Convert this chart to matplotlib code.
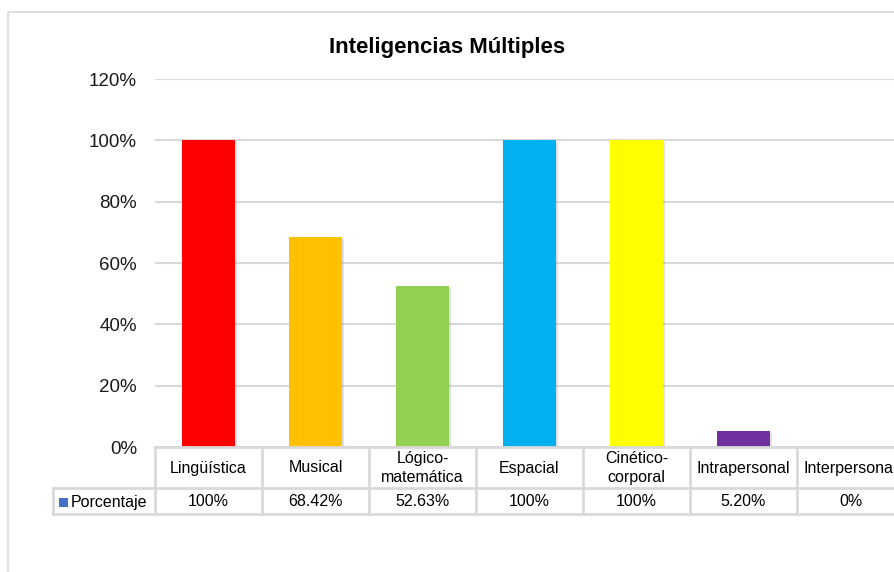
import matplotlib
matplotlib.use("Agg")
import matplotlib.pyplot as plt
import matplotlib.patheffects as pe
from matplotlib.transforms import blended_transform_factory, Affine2D
from matplotlib.patches import Rectangle

plt.rcParams['font.family'] = ['Liberation Sans', 'DejaVu Sans']

title = "Inteligencias Múltiples"
categories = ["Lingüística", "Musical", "Lógico-\nmatemática", "Espacial",
              "Cinético-\ncorporal", "Intrapersonal", "Interpersonal"]
values = [100, 68.42, 52.63, 100, 100, 5.20, 0]
value_labels = ["100%", "68.42%", "52.63%", "100%", "100%", "5.20%", "0%"]
colors = ["#FF0000", "#FFC000", "#92D050", "#00B0F0", "#FFFF00", "#7030A0", "#4472C4"]
series_name = "Porcentaje"
yticks = [0, 20, 40, 60, 80, 100, 120]
ytick_labels = ["0%", "20%", "40%", "60%", "80%", "100%", "120%"]

W, H = 894, 572
fig = plt.figure(figsize=(W / 100, H / 100), dpi=100)
grid_c = "#D9D9D9"

# outer chart border
fig.patches.append(Rectangle((8 / W, -0.05), 1.0, (H - 12) / H + 0.05,
                             transform=fig.transFigure, fill=False,
                             edgecolor=grid_c, lw=1.2))

ax_left, ax_bottom, ax_top = 155, 447, 79
ax = fig.add_axes([ax_left / W, (H - ax_bottom) / H, 749 / W, (ax_bottom - ax_top) / H])
ax.set_xlim(-0.5, len(categories) - 0.5)
ax.set_ylim(0, 120)
for s in ax.spines.values():
    s.set_visible(False)
ax.set_yticks(yticks)
ax.set_yticklabels(ytick_labels, fontsize=13.5, color="#1a1a1a")
ax.tick_params(axis="y", length=0, pad=13)
ax.set_xticks([])
ax.yaxis.grid(True, color=grid_c, lw=1.5)
ax.set_axisbelow(True)

xs = list(range(len(categories)))
bars = ax.bar(xs, values, width=0.5, color=colors, zorder=3)
for b, v in zip(bars, values):
    if v > 0:
        b.set_path_effects([pe.SimplePatchShadow(offset=(1.5, -1.5), shadow_rgbFace="#999999", alpha=0.3),
                            pe.Normal()])

fig.text(0.5, (H - 48) / H, title, ha="center", va="center",
         fontsize=16, fontweight="bold", color="#000000")

# data table below axes: x in data coords, y in pixels from top of figure
px = Affine2D().scale(1, -1).translate(0, H)


def hline(x0, x1, y, xdata=True):
    t = blended_transform_factory(ax.transData if xdata else px, px)
    ax.add_line(plt.Line2D([x0, x1], [y, y], transform=t, color=grid_c, lw=2, clip_on=False, zorder=4))


def vline(x, y0, y1, xdata=True):
    t = blended_transform_factory(ax.transData if xdata else px, px)
    ax.add_line(plt.Line2D([x, x], [y0, y1], transform=t, color=grid_c, lw=2, clip_on=False, zorder=4))


n = len(categories)
hline(-0.5, n - 0.5, ax_bottom)
hline(-0.5, n - 0.5, 488)
hline(-0.5, n - 0.5, 514)
hline(53, ax_left, 488, xdata=False)
hline(53, ax_left, 514, xdata=False)
vline(53, 488, 514, xdata=False)
for i in range(n + 1):
    vline(i - 0.5, ax_bottom, 514)

tdata = blended_transform_factory(ax.transData, px)
for i, (c, lab) in enumerate(zip(categories, value_labels)):
    ax.text(i, 468, c, transform=tdata, ha="center", va="center", fontsize=11.5,
            color="#000000", linespacing=1.3, clip_on=False)
    ax.text(i, 502, lab, transform=tdata, ha="center", va="center", fontsize=11.5,
            color="#000000", clip_on=False)

fig.patches.append(Rectangle((59, 498), 9, 9, transform=px, facecolor="#4472C4",
                             edgecolor="none"))
fig.text(71 / W, (H - 502) / H, series_name, ha="left", va="center", fontsize=11.5, color="#000000")

fig.savefig("out.png", dpi=100)
